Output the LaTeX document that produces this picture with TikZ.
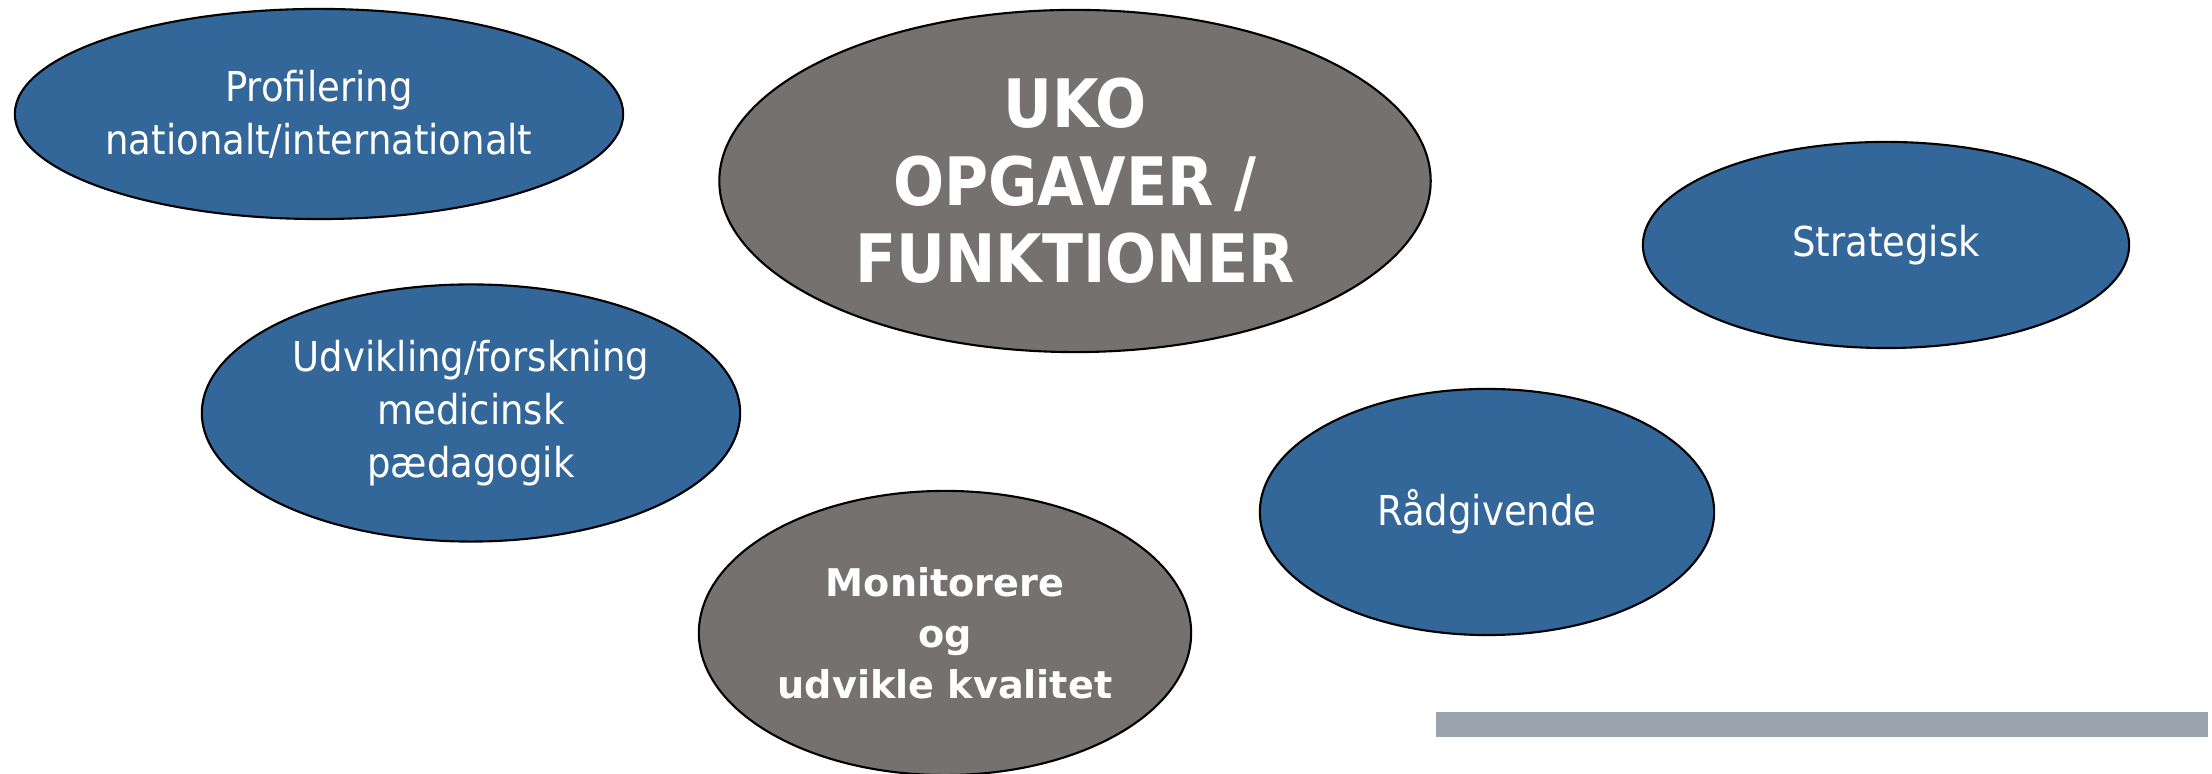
\documentclass[tikz,border=0pt]{standalone}
\usepackage{fontspec}
\setmainfont{DejaVu Sans Condensed}
\newfontfamily\brede{DejaVu Sans}
\usepackage{tikz}
\usetikzlibrary{shapes.geometric}
\definecolor{UKOblaa}{HTML}{336699}
\definecolor{UKOgraa}{HTML}{767171}
\definecolor{UKObjaelke}{HTML}{9AA4AE}
\tikzset{
Boble/.style={
 ellipse,
 draw=black,
 line width=0.6pt,
 text=white,
 align=center,
 inner xsep=-8pt,
 inner ysep=0pt
 },
BlaaBoble/.style={
 Boble,
 fill=UKOblaa,
 font=\fontsize{11.7}{15}\selectfont
 },
GraaBoble/.style={
 Boble,
 fill=UKOgraa
 }
}

\begin{document}
\begin{tikzpicture}[x=0.01cm,y=-0.01cm]
\useasboundingbox (0,0) rectangle (2212,774);
% blaa bobler
\node[BlaaBoble,minimum width=6.08cm,minimum height=2.10cm] (profil) at (319,114) {Profilering\\nationalt/internationalt};
\node[BlaaBoble,minimum width=4.86cm,minimum height=2.06cm] (strategi) at (1886,245) {Strategisk};
\node[BlaaBoble,minimum width=5.38cm,minimum height=2.57cm] (udvikling) at (471,413) {Udvikling/forskning\\medicinsk\\pædagogik};
\node[BlaaBoble,minimum width=4.54cm,minimum height=2.46cm] (raad) at (1487,512) {Rådgivende};
% graa bobler
\node[GraaBoble,minimum width=7.11cm,minimum height=3.42cm,font=\bfseries\fontsize{19}{22}\selectfont] (uko) at (1075,181) {UKO\\OPGAVER /\\FUNKTIONER};
\node[GraaBoble,minimum width=4.92cm,minimum height=2.84cm,font=\brede\bfseries\fontsize{10.85}{14.5}\selectfont] (kvalitet) at (945,633) {Monitorere\\og\\udvikle kvalitet};
% bjaelke
\fill[UKObjaelke] (1436,712) rectangle (2208,737);
\end{tikzpicture}
\end{document}
